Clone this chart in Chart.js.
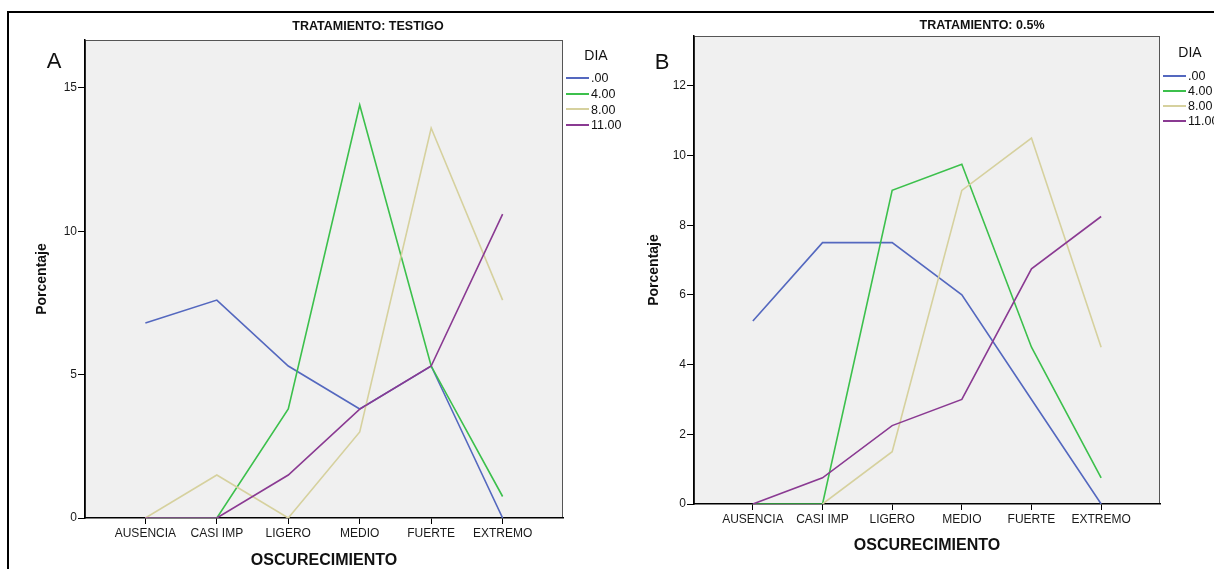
<!DOCTYPE html>
<html>
<head>
<meta charset="utf-8">
<script src="https://cdn.jsdelivr.net/npm/chart.js@4.4.1/dist/chart.umd.min.js"></script>
<style>
    body { margin: 0; background: #fff; width: 1214px; height: 569px; overflow: hidden; position: relative; font-family: "Liberation Sans", Arial, sans-serif; color: #111; }
    .frame { position: absolute; left: 7px; top: 11px; width: 1300px; height: 700px; border-top: 2px solid #000; border-left: 2px solid #000; }
    canvas { position: absolute; top: 0; }
    .title { position: absolute; font-weight: bold; font-size: 12.5px; transform: translate(-50%, -50%); white-space: nowrap; }
    .letter { position: absolute; font-size: 22px; transform: translate(-50%, -50%); }
    .legend { position: absolute; font-size: 12.5px; white-space: nowrap; }
    .legend .head { position: absolute; font-size: 14px; transform: translate(-50%, -50%); }
    .legend .item { position: absolute; height: 14px; line-height: 14px; transform: translateY(-50%); }
    .legend .swatch { display: inline-block; width: 23px; height: 2px; vertical-align: middle; margin-right: 2px; position: relative; top: -1px; }
</style>
</head>
<body>
<div class="frame"></div>
<canvas id="chart-a" width="640" height="569" style="left:0"></canvas>
<canvas id="chart-b" width="574" height="569" style="left:640px"></canvas>

<div class="title" style="left:368px; top:26px">TRATAMIENTO: TESTIGO</div>
<div class="title" style="left:982px; top:25px">TRATAMIENTO: 0.5%</div>
<div class="letter" style="left:54px; top:61px">A</div>
<div class="letter" style="left:662px; top:62px">B</div>
<div class="legend" id="legend-a" style="left:566px; top:0"></div>
<div class="legend" id="legend-b" style="left:1163px; top:0"></div>

<script>
// ===== DATA =====
const CATEGORIES = ['AUSENCIA', 'CASI IMP', 'LIGERO', 'MEDIO', 'FUERTE', 'EXTREMO'];
const DIA_LABELS = ['.00', '4.00', '8.00', '11.00'];
const DIA_COLORS = ['#5468BF', '#3CC04C', '#D6D19E', '#8A3A92'];

// Tratamiento: testigo
const testigoDia0 = [6.8, 7.6, 5.3, 3.8, 5.3, 0];
const testigoDia4 = [0, 0, 3.8, 14.4, 5.3, 0.75];
const testigoDia8 = [0, 1.5, 0, 3.0, 13.6, 7.6];
const testigoDia11 = [0, 0, 1.5, 3.8, 5.3, 10.6];
const testigoTicksY = [0, 5, 10, 15];

// Tratamiento: 0.5%
const dosisDia0 = [5.25, 7.5, 7.5, 6.0, 3.0, 0];
const dosisDia4 = [0, 0, 9.0, 9.75, 4.5, 0.75];
const dosisDia8 = [null, 0, 1.5, 9.0, 10.5, 4.5];
const dosisDia11 = [0, 0.75, 2.25, 3.0, 6.75, 8.25];
const dosisTicksY = [0, 2, 4, 6, 8, 10, 12];

// gray plot background + frame, like SPSS
const plotFrame = {
    id: 'plotFrame',
    beforeDraw(chart) {
        const { ctx, chartArea: a } = chart;
        ctx.save();
        ctx.fillStyle = '#F0F0F0';
        ctx.fillRect(a.left, a.top, a.width, a.height);
        ctx.strokeStyle = '#555';
        ctx.lineWidth = 1;
        ctx.strokeRect(a.left + 0.5, a.top + 0.5, a.width - 1, a.height - 1);
        ctx.restore();
    }
};

function makePanel(canvasId, series, opts) {
    const ctx = document.getElementById(canvasId);
    return new Chart(ctx, {
        type: 'line',
        data: {
            datasets: series.map((values, i) => ({
                label: DIA_LABELS[i],
                data: values.map((v, j) => ({ x: j, y: v })),
                borderColor: DIA_COLORS[i],
                borderWidth: 1.6,
                pointRadius: 0,
                tension: 0,
                fill: false,
                order: series.length - i
            }))
        },
        options: {
            responsive: false,
            animation: false,
            layout: { padding: opts.padding },
            plugins: { legend: { display: false }, tooltip: { enabled: false } },
            scales: {
                x: {
                    type: 'linear',
                    min: -0.845, max: 5.845,
                    afterBuildTicks: s => { s.ticks = CATEGORIES.map((c, j) => ({ value: j })); },
                    afterFit: s => { s.height = opts.xHeight; },
                    ticks: {
                        callback: v => CATEGORIES[v],
                        autoSkip: false, maxRotation: 0,
                        color: '#1a1a1a', font: { size: 12 }, padding: 2
                    },
                    grid: { drawOnChartArea: false, tickLength: 6, color: '#000' },
                    border: { color: '#000', width: 1.5 },
                    title: {
                        display: true, text: 'OSCURECIMIENTO', color: '#111',
                        font: { size: 16, weight: 'bold', lineHeight: 1 },
                        padding: { top: 0, bottom: opts.xTitlePad }
                    }
                },
                y: {
                    min: 0, max: opts.yMax,
                    afterBuildTicks: s => { s.ticks = opts.yTicks.map(v => ({ value: v })); },
                    afterFit: s => { s.width = opts.yWidth; },
                    ticks: { color: '#1a1a1a', font: { size: 12 }, padding: 1 },
                    grid: { drawOnChartArea: false, tickLength: 7, color: '#000' },
                    border: { color: '#000', width: 1.5 },
                    title: {
                        display: true, text: 'Porcentaje', color: '#111',
                        font: { size: 14, weight: 'bold', lineHeight: 1.2 },
                        padding: { top: opts.yTitlePad, bottom: 0 }
                    }
                }
            }
        },
        plugins: [plotFrame]
    });
}

function buildLegend(id, headX, headY, firstY, stepY) {
    const el = document.getElementById(id);
    let html = `<div class="head" style="left:${headX}px; top:${headY}px">DIA</div>`;
    DIA_LABELS.forEach((lab, i) => {
        html += `<div class="item" style="left:0; top:${firstY + i * stepY}px">` +
            `<span class="swatch" style="background:${DIA_COLORS[i]}"></span>${lab}</div>`;
    });
    el.innerHTML = html;
}

makePanel('chart-a', [testigoDia0, testigoDia4, testigoDia8, testigoDia11], {
    padding: { left: 0, top: 40, right: 77, bottom: 0 },
    yMax: 16.67, yTicks: testigoTicksY,
    yWidth: 85, xHeight: 51,
    yTitlePad: 34, xTitlePad: 0
});

makePanel('chart-b', [dosisDia0, dosisDia4, dosisDia8, dosisDia11], {
    padding: { left: 0, top: 36, right: 54, bottom: 0 },
    yMax: 13.43, yTicks: dosisTicksY,
    yWidth: 54, xHeight: 65,
    yTitlePad: 6, xTitlePad: 15
});

buildLegend('legend-a', 30, 55, 78, 15.8);
buildLegend('legend-b', 27, 52, 76, 15);
</script>
</body>
</html>
